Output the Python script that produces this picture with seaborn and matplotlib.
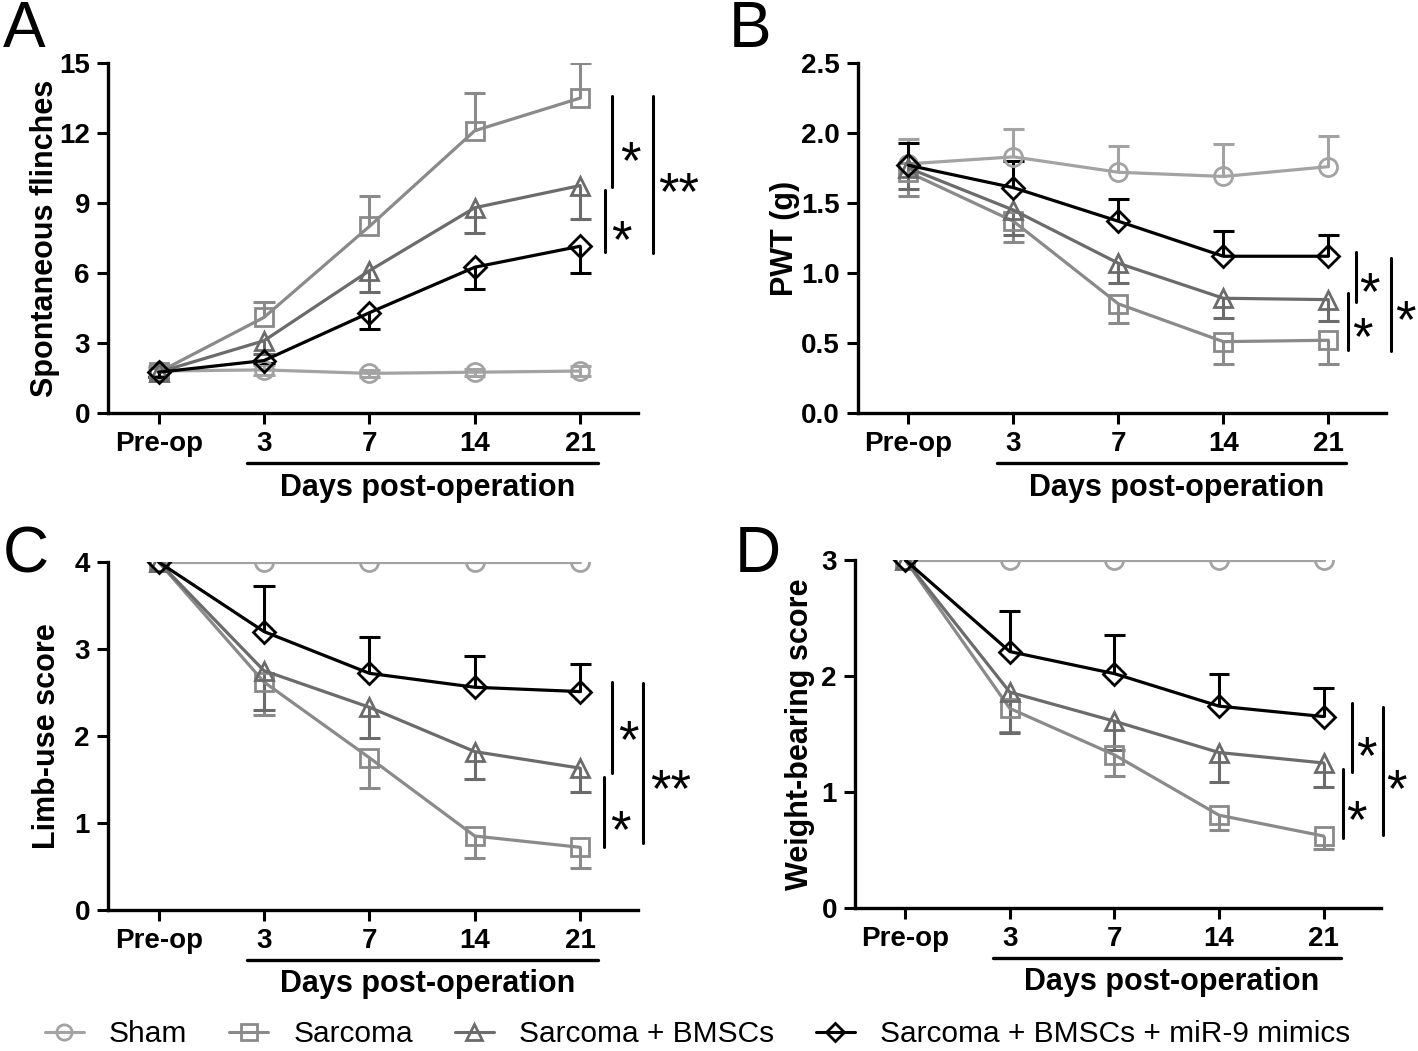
import matplotlib

matplotlib.use("Agg")
import matplotlib.pyplot as plt
import matplotlib.transforms as mtransforms
import pandas as pd
import seaborn as sns
from matplotlib.lines import Line2D


DAY_LABELS = ["Pre-op", "3", "7", "14", "21"]
GROUPS = ["Sham", "Sarcoma", "Sarcoma + BMSCs", "Sarcoma + BMSCs + miR-9 mimics"]
GROUP_COLORS = ["#a3a3a3", "#8a8a8a", "#6b6b6b", "#000000"]
GROUP_MARKERS = ["o", "s", "^", "D"]

# A - spontaneous flinches
flinch_sham = [1.8, 1.85, 1.7, 1.75, 1.8]
flinch_sarcoma = [1.75, 4.1, 8.0, 12.1, 13.5]
flinch_bmsc = [1.75, 3.1, 6.1, 8.8, 9.75]
flinch_mimic = [1.75, 2.25, 4.3, 6.25, 7.15]
flinch_sham_err = [0.2, 0.2, 0.15, 0.15, 0.2]
flinch_sarcoma_err = [0.2, 0.65, 1.3, 1.6, 1.5]
flinch_bmsc_err = [0.2, 0.55, 0.9, 1.1, 1.45]
flinch_mimic_err = [0.2, 0.1, 0.7, 0.95, 1.15]

# B - paw withdrawal threshold
pwt_sham = [1.78, 1.83, 1.72, 1.69, 1.76]
pwt_sarcoma = [1.72, 1.37, 0.78, 0.51, 0.52]
pwt_bmsc = [1.75, 1.45, 1.07, 0.82, 0.81]
pwt_mimic = [1.77, 1.61, 1.37, 1.12, 1.12]
pwt_sham_err = [0.18, 0.2, 0.19, 0.23, 0.22]
pwt_sarcoma_err = [0.17, 0.15, 0.14, 0.16, 0.17]
pwt_bmsc_err = [0.15, 0.18, 0.14, 0.14, 0.15]
pwt_mimic_err = [0.16, 0.19, 0.16, 0.18, 0.15]

# C - limb-use score
limb_sham = [4, 4, 4, 4, 4]
limb_sarcoma = [4, 2.62, 1.75, 0.85, 0.72]
limb_bmsc = [4, 2.75, 2.33, 1.82, 1.63]
limb_mimic = [4, 3.2, 2.72, 2.56, 2.51]
limb_sham_err = [0, 0, 0, 0, 0]
limb_sarcoma_err = [0, 0.38, 0.35, 0.25, 0.24]
limb_bmsc_err = [0, 0.45, 0.35, 0.32, 0.27]
limb_mimic_err = [0, 0.52, 0.42, 0.36, 0.32]

# D - weight-bearing score
weight_sham = [3, 3, 3, 3, 3]
weight_sarcoma = [3, 1.72, 1.32, 0.8, 0.62]
weight_bmsc = [3, 1.86, 1.61, 1.34, 1.25]
weight_mimic = [3, 2.21, 2.02, 1.74, 1.65]
weight_sham_err = [0, 0, 0, 0, 0]
weight_sarcoma_err = [0, 0.2, 0.18, 0.13, 0.11]
weight_bmsc_err = [0, 0.35, 0.25, 0.25, 0.21]
weight_mimic_err = [0, 0.35, 0.33, 0.28, 0.25]

# which side the error bar is drawn on, per group
ERR_SIDES = {
    "A": ["both", "up", "down", "down"],
    "B": ["up", "down", "down", "up"],
    "C": ["up", "down", "down", "up"],
    "D": ["up", "down", "down", "up"],
}

# significance brackets: (x, y_top, y_bottom) and labels: (x, y, text)
SIG_LINES = {
    "A": [(4.30, 13.6, 9.7), (4.24, 9.55, 6.9), (4.69, 13.6, 6.85)],
    "B": [(4.26, 1.15, 0.79), (4.19, 0.86, 0.45), (4.60, 1.11, 0.44)],
    "C": [(4.30, 2.62, 1.57), (4.23, 1.53, 0.72), (4.60, 2.61, 0.77)],
    "D": [(4.27, 1.77, 1.17), (4.19, 1.20, 0.60), (4.57, 1.73, 0.63)],
}
SIG_TEXT = {
    "A": [(4.48, 11.3, "*"), (4.39, 7.95, "*"), (4.93, 10.0, "**")],
    "B": [(4.39, 0.95, "*"), (4.32, 0.63, "*"), (4.73, 0.75, "*")],
    "C": [(4.46, 2.09, "*"), (4.38, 1.06, "*"), (4.86, 1.53, "**")],
    "D": [(4.41, 1.41, "*"), (4.31, 0.86, "*"), (4.70, 1.13, "*")],
}


def draw_errors(ax, x, mean, err, side, color):
    """One-sided (or two-sided) error bars with caps, GraphPad style."""
    cap = 0.1
    for xi, m, e in zip(x, mean, err):
        if e <= 0:
            continue
        ends = []
        if side in ("up", "both"):
            ends.append(m + e)
        if side in ("down", "both"):
            ends.append(m - e)
        for end in ends:
            ax.vlines(xi, m, end, color=color, lw=2.2, zorder=2)
            ax.hlines(end, xi - cap, xi + cap, color=color, lw=2.2, zorder=2)


def draw_panel(ax, key, series, errors, ylabel, yticks, yfmt):
    x = list(range(len(DAY_LABELS)))
    for i, (mean, err) in enumerate(zip(series, errors)):
        color = GROUP_COLORS[i]
        df = pd.DataFrame({"day": x, "value": mean})
        sns.lineplot(
            data=df, x="day", y="value", ax=ax, color=color,
            marker=GROUP_MARKERS[i], markersize=13 if GROUP_MARKERS[i] != "D" else 11,
            mfc="none", mec=color, mew=2.0, lw=2.3, zorder=3 + i,
        )
        draw_errors(ax, x, mean, err, ERR_SIDES[key][i], color)

    ax.set_xlim(-0.48, 4.55)
    ax.set_ylim(yticks[0], yticks[-1])
    ax.set_xticks(x)
    ax.set_xticklabels(DAY_LABELS, fontsize=20, fontweight="bold")
    ax.set_yticks(yticks)
    ax.set_yticklabels([yfmt.format(t) for t in yticks], fontsize=20, fontweight="bold")
    ax.set_xlabel("")
    ax.set_ylabel(ylabel, fontsize=22, fontweight="bold")
    ax.tick_params(direction="out", length=8, width=2.2, pad=5)
    for side in ("left", "bottom"):
        ax.spines[side].set_linewidth(2.4)
    sns.despine(ax=ax)

    # bar under the post-op days + axis title
    trans = mtransforms.blended_transform_factory(ax.transData, ax.transAxes)
    ax.plot([0.84, 4.17], [-0.143, -0.143], transform=trans, color="black",
            lw=2.4, clip_on=False)
    ax.text(2.55, -0.214, "Days post-operation", transform=trans, ha="center",
            va="center", fontsize=22, fontweight="bold")

    for xs, y0, y1 in SIG_LINES[key]:
        ax.plot([xs, xs], [y0, y1], color="black", lw=2.2, clip_on=False)
    for xs, ys, txt in SIG_TEXT[key]:
        ax.annotate(txt, xy=(xs, ys), xytext=(0, -21), textcoords="offset points",
                    ha="center", va="baseline", fontsize=38, annotation_clip=False)


sns.set_theme(style="ticks")
plt.rcParams["font.family"] = ["Liberation Sans", "DejaVu Sans"]
plt.rcParams["text.color"] = "black"
plt.rcParams["axes.labelcolor"] = "black"
plt.rcParams["axes.edgecolor"] = "black"
plt.rcParams["xtick.color"] = "black"
plt.rcParams["ytick.color"] = "black"

fig = plt.figure(figsize=(14.18, 10.51), dpi=100)
ax_a = fig.add_axes([0.0762, 0.607, 0.3738, 0.333])
ax_b = fig.add_axes([0.6051, 0.607, 0.3724, 0.333])
ax_c = fig.add_axes([0.0762, 0.1342, 0.3738, 0.3311])
ax_d = fig.add_axes([0.6030, 0.1361, 0.3710, 0.3311])

draw_panel(
    ax_a, "A",
    [flinch_sham, flinch_sarcoma, flinch_bmsc, flinch_mimic],
    [flinch_sham_err, flinch_sarcoma_err, flinch_bmsc_err, flinch_mimic_err],
    "Spontaneous flinches", [0, 3, 6, 9, 12, 15], "{:g}",
)
draw_panel(
    ax_b, "B",
    [pwt_sham, pwt_sarcoma, pwt_bmsc, pwt_mimic],
    [pwt_sham_err, pwt_sarcoma_err, pwt_bmsc_err, pwt_mimic_err],
    "PWT (g)", [0, 0.5, 1.0, 1.5, 2.0, 2.5], "{:.1f}",
)
draw_panel(
    ax_c, "C",
    [limb_sham, limb_sarcoma, limb_bmsc, limb_mimic],
    [limb_sham_err, limb_sarcoma_err, limb_bmsc_err, limb_mimic_err],
    "Limb-use score", [0, 1, 2, 3, 4], "{:g}",
)
draw_panel(
    ax_d, "D",
    [weight_sham, weight_sarcoma, weight_bmsc, weight_mimic],
    [weight_sham_err, weight_sarcoma_err, weight_bmsc_err, weight_mimic_err],
    "Weight-bearing score", [0, 1, 2, 3], "{:g}",
)

ax_a.yaxis.set_label_coords(-0.09, 0.5)
ax_b.yaxis.set_label_coords(-0.11, 0.5)
ax_c.yaxis.set_label_coords(-0.087, 0.5)
ax_d.yaxis.set_label_coords(-0.076, 0.5)

# panel letters
for letter, (lx, ly) in zip("ABCD", [(0.002, 1.0), (0.514, 1.0), (0.002, 0.5), (0.518, 0.5)]):
    fig.text(lx, ly, letter, fontsize=46, ha="left", va="top")

handles = [
    Line2D([], [], color=c, marker=m, markersize=11 if m != "D" else 9,
           mfc="none", mec=c, mew=2.0, lw=2.2)
    for c, m in zip(GROUP_COLORS, GROUP_MARKERS)
]
fig.legend(handles, GROUPS, loc="center", bbox_to_anchor=(0.492, 0.016), ncol=4,
           frameon=False, fontsize=21.5, handlelength=1.3, columnspacing=1.4,
           handletextpad=0.85)

fig.savefig("out.png", dpi=100)
